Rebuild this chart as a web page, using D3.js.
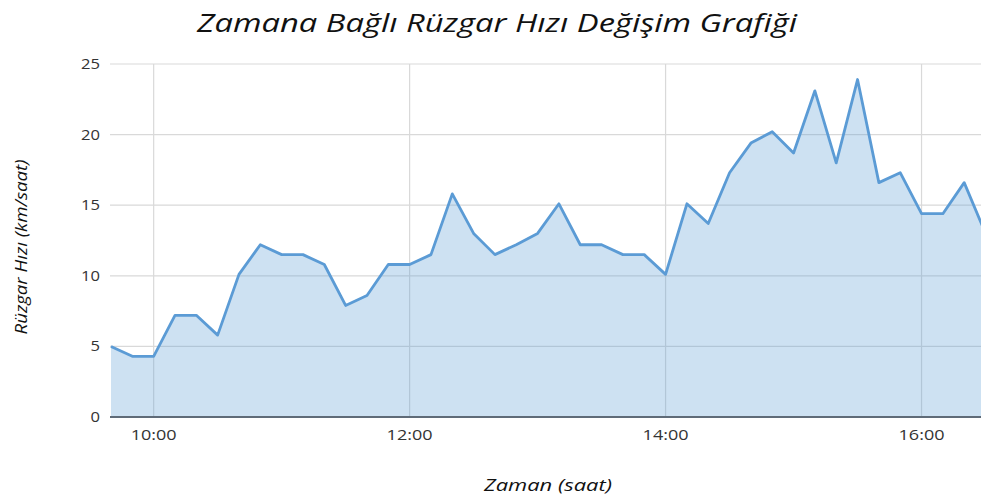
<!DOCTYPE html>
<html>
<head>
<meta charset="utf-8">
<script src="https://cdn.jsdelivr.net/npm/d3@7"></script>
<style>
  body { margin: 0; background: #fff; overflow: hidden; }
  text { font-family: "Open Sans", "DejaVu Sans", sans-serif; }
</style>
</head>
<body>
<div class="chart"></div>
<script>

// Data
//
var times = ["09:40","09:50","10:00","10:10","10:20","10:30","10:40","10:50",
  "11:00","11:10","11:20","11:30","11:40","11:50","12:00","12:10","12:20","12:30",
  "12:40","12:50","13:00","13:10","13:20","13:30","13:40","13:50","14:00","14:10",
  "14:20","14:30","14:40","14:50","15:00","15:10","15:20","15:30","15:40","15:50",
  "16:00","16:10","16:20","16:30"];
var speeds = [5.0,4.3,4.3,7.2,7.2,5.8,10.1,12.2,
  11.5,11.5,10.8,7.9,8.6,10.8,10.8,11.5,15.8,13.0,
  11.5,12.2,13.0,15.1,12.2,12.2,11.5,11.5,10.1,15.1,
  13.7,17.3,19.4,20.2,18.7,23.1,18.0,23.9,16.6,17.3,
  14.4,14.4,16.6,13.0];
var yTicks = [0, 5, 10, 15, 20, 25];
var xTicks = ["10:00","12:00","14:00","16:00"];

var title = "Zamana Bağlı Rüzgar Hızı Değişim Grafiği",
    xTitle = "Zaman (saat)",
    yTitle = "Rüzgar Hızı (km/saat)";

// Margins
//
var W = 981, H = 498;
var margin = {top: 64, left: 111, bottom: 81};

var parseTime = d3.timeParse("%H:%M");

var data = times.map(function(t, i) {
  return {t: parseTime(t), v: speeds[i]};
});

var svg = d3.select(".chart")
  .append("svg")
  .attr("width", W)
  .attr("height", H);

// x runs past the window edge, the chart is cut off on the right
var x = d3.scaleTime()
  .domain([parseTime("09:40"), parseTime("16:30")])
  .range([margin.left, margin.left + 41 * 21.33]);

var y = d3.scaleLinear()
  .domain([0, 25])
  .range([H - margin.bottom, margin.top]);

// grid
svg.append("g")
  .selectAll("line")
  .data(yTicks.filter(function(d) { return d > 0; }))
  .enter().append("line")
  .attr("x1", margin.left - 1)
  .attr("x2", W)
  .attr("y1", function(d) { return y(d); })
  .attr("y2", function(d) { return y(d); })
  .attr("stroke", "#d9d9d9")
  .attr("stroke-width", 1.2);

svg.append("g")
  .selectAll("line")
  .data(xTicks)
  .enter().append("line")
  .attr("x1", function(d) { return x(parseTime(d)); })
  .attr("x2", function(d) { return x(parseTime(d)); })
  .attr("y1", margin.top)
  .attr("y2", y(0))
  .attr("stroke", "#d9d9d9")
  .attr("stroke-width", 1.2);

// area + line
var area = d3.area()
  .x(function(d) { return x(d.t); })
  .y0(y(0))
  .y1(function(d) { return y(d.v); });

var line = d3.line()
  .x(function(d) { return x(d.t); })
  .y(function(d) { return y(d.v); });

svg.append("path")
  .datum(data)
  .attr("d", area)
  .attr("fill", "#5b9bd5")
  .attr("fill-opacity", 0.3);

svg.append("path")
  .datum(data)
  .attr("d", line)
  .attr("fill", "none")
  .attr("stroke", "#5b9bd5")
  .attr("stroke-width", 2.8)
  .attr("stroke-linejoin", "round");

// baseline
svg.append("line")
  .attr("x1", margin.left - 1)
  .attr("x2", W)
  .attr("y1", y(0))
  .attr("y2", y(0))
  .attr("stroke", "#5f6b78")
  .attr("stroke-width", 1.8);

// y axis labels
svg.append("g")
  .selectAll("text")
  .data(yTicks)
  .enter().append("text")
  .attr("x", 100)
  .attr("y", function(d) { return y(d) + 5; })
  .attr("text-anchor", "end")
  .attr("font-size", 14)
  .attr("fill", "#333")
  .attr("textLength", function(d) { return String(d).length * 9.5; })
  .attr("lengthAdjust", "spacingAndGlyphs")
  .text(function(d) { return d; });

// x axis labels
svg.append("g")
  .selectAll("text")
  .data(xTicks)
  .enter().append("text")
  .attr("x", function(d) { return x(parseTime(d)); })
  .attr("y", 440)
  .attr("text-anchor", "middle")
  .attr("font-size", 15)
  .attr("fill", "#333")
  .attr("textLength", 46)
  .attr("lengthAdjust", "spacingAndGlyphs")
  .text(function(d) { return d; });

// titles
svg.append("text")
  .attr("x", 497)
  .attr("y", 32)
  .attr("text-anchor", "middle")
  .attr("font-size", 26)
  .attr("font-style", "italic")
  .attr("fill", "#111")
  .attr("textLength", 600)
  .attr("lengthAdjust", "spacingAndGlyphs")
  .text(title);

svg.append("text")
  .attr("x", 548)
  .attr("y", 491)
  .attr("text-anchor", "middle")
  .attr("font-size", 17)
  .attr("font-style", "italic")
  .attr("fill", "#111")
  .attr("textLength", 128)
  .attr("lengthAdjust", "spacingAndGlyphs")
  .text(xTitle);

svg.append("text")
  .attr("transform", "translate(27,247) rotate(-90)")
  .attr("text-anchor", "middle")
  .attr("font-size", 17)
  .attr("font-style", "italic")
  .attr("fill", "#111")
  .attr("textLength", 175)
  .attr("lengthAdjust", "spacingAndGlyphs")
  .text(yTitle);

</script>
</body>
</html>
